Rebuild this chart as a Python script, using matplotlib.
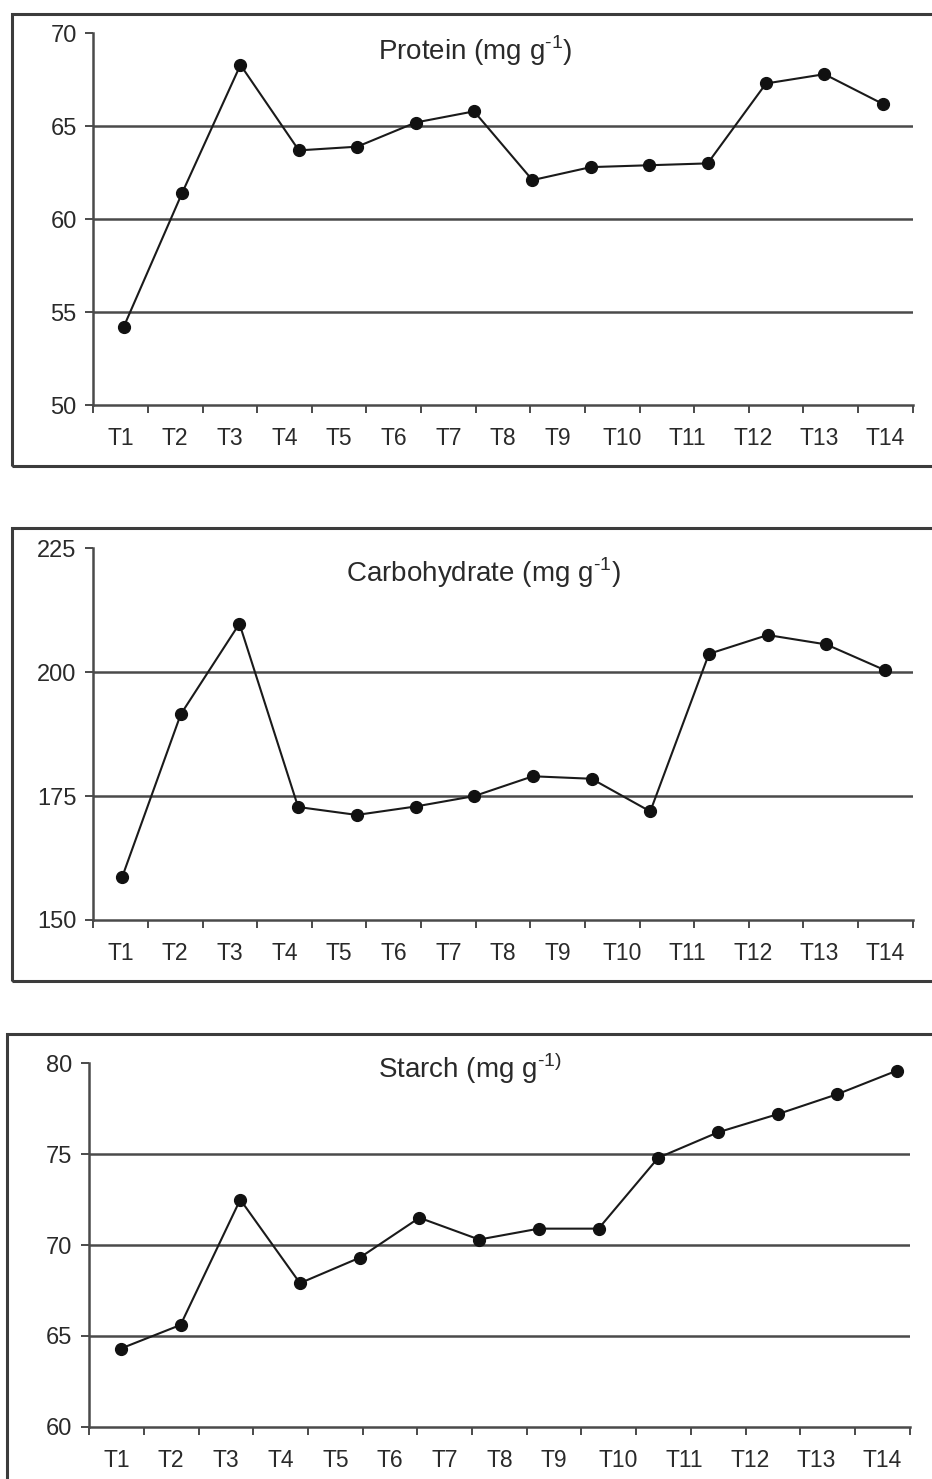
import numpy as np
import matplotlib
matplotlib.use("agg")
import matplotlib.pyplot as plt
from matplotlib.patches import Rectangle

plt.rcParams['font.family'] = ['Liberation Sans', 'DejaVu Sans']
plt.rcParams['mathtext.fontset'] = 'custom'
plt.rcParams['mathtext.rm'] = 'Liberation Sans'

treatments = ['T1', 'T2', 'T3', 'T4', 'T5', 'T6', 'T7',
              'T8', 'T9', 'T10', 'T11', 'T12', 'T13', 'T14']

protein = [54.2, 61.4, 68.3, 63.7, 63.9, 65.2, 65.8,
           62.1, 62.8, 62.9, 63.0, 67.3, 67.8, 66.2]
carbohydrate = [158.6, 191.5, 209.8, 172.8, 171.2, 172.9, 175.0,
                179.0, 178.5, 171.9, 203.7, 207.5, 205.6, 200.4]
starch = [64.3, 65.6, 72.5, 67.9, 69.3, 71.5, 70.3,
          70.9, 70.9, 74.8, 76.2, 77.2, 78.3, 79.6]

protein_yticks = [50, 55, 60, 65, 70]
carb_yticks = [150, 175, 200, 225]
starch_yticks = [60, 65, 70, 75, 80]

W, H = 932, 1479
fig = plt.figure(figsize=(W / 100, H / 100), dpi=100)

grid_col = '#4a4a4a'
text_col = '#2a2a2a'

# label positions along the axis (fraction of axis length), as drawn in the original
label_frac = [(i + 0.5) / 15 for i in range(9)] + [0.645 + 0.0803 * j for j in range(5)]


def px_rect(left, right, top, bottom):
    return [left / W, 1 - bottom / H, (right - left) / W, (bottom - top) / H]


def frame(left, top, bottom):
    fig.add_artist(Rectangle((left / W, 1 - bottom / H), 1.05 - left / W, (bottom - top) / H,
                             transform=fig.transFigure, fill=False, lw=2.2,
                             ec='#3c3c3c', clip_on=False))


def panel(rect, values, yticks, title, xlim, title_xy):
    ax = fig.add_axes(rect)
    x = np.arange(len(values))
    ax.plot(x, values, color='#1a1a1a', lw=1.5, marker='o', ms=8.5,
            mfc='#111111', mec='#111111', zorder=3, clip_on=False)
    ax.set_xlim(*xlim)
    ax.set_ylim(yticks[0], yticks[-1])
    for y in yticks[1:-1]:
        ax.axhline(y, color=grid_col, lw=1.8, zorder=1)

    for s in ['top', 'right']:
        ax.spines[s].set_visible(False)
    for s in ['left', 'bottom']:
        ax.spines[s].set_color(grid_col)
        ax.spines[s].set_linewidth(1.8)

    ax.set_yticks(yticks)
    ax.set_yticklabels([str(v) for v in yticks])
    ax.tick_params(axis='y', direction='out', length=6, width=1.4, color=grid_col,
                   labelsize=17, labelcolor=text_col, pad=6)

    span = xlim[1] - xlim[0]
    ax.set_xticks(np.linspace(xlim[0], xlim[1], 16), minor=True)
    ax.set_xticks([xlim[0] + f * span for f in label_frac])
    ax.set_xticklabels(treatments)
    ax.tick_params(axis='x', which='minor', direction='out', length=6, width=1.4,
                   color=grid_col)
    ax.tick_params(axis='x', which='major', length=0, labelsize=16.5,
                   labelcolor=text_col, pad=16)

    ax.text(title_xy[0], title_xy[1], title, transform=ax.transAxes, ha='center',
            va='center', fontsize=20, color=text_col)
    return ax


frame(12, 14, 466)
panel(px_rect(93.3, 912.6, 33.3, 405), protein, protein_yticks,
      r'Protein (mg g$^{\text{-1}}$)', (-0.52, 13.51), (0.466, 0.952))

frame(12, 527.7, 981)
panel(px_rect(93.3, 912.6, 548.3, 920), carbohydrate, carb_yticks,
      r'Carbohydrate (mg g$^{\text{-1}}$)', (-0.49, 13.47), (0.476, 0.935))

frame(7, 1034.3, 1500)
panel(px_rect(89.2, 909.6, 1063.3, 1426.7), starch, starch_yticks,
      r'Starch (mg g$^{\text{-1)}}$', (-0.53, 13.21), (0.464, 0.985))

fig.savefig('out.png', dpi=100, facecolor='white')
